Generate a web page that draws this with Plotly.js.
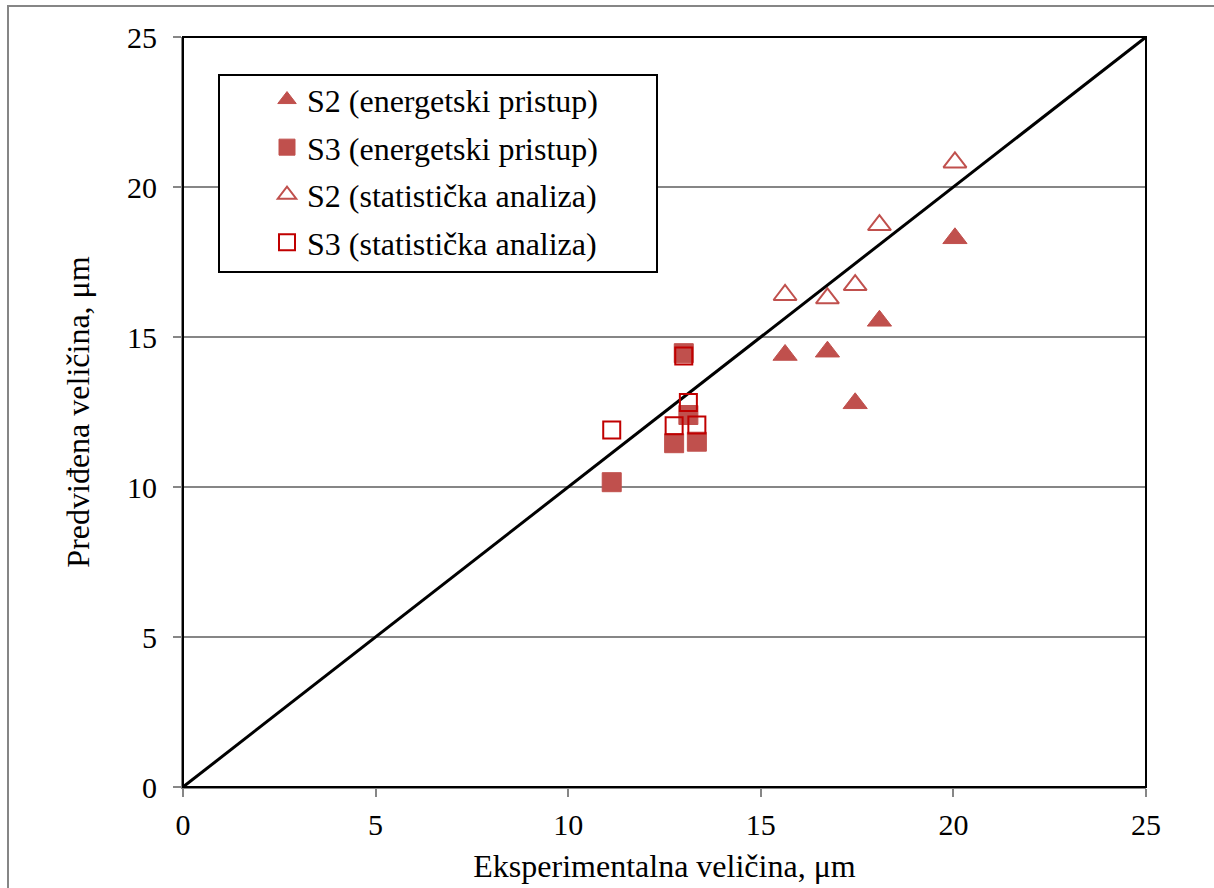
<!DOCTYPE html>
<html>
<head>
<meta charset="utf-8">
<script src="https://cdn.plot.ly/plotly-3.0.1.min.js"></script>
<style>html,body{margin:0;padding:0;background:#fff;}#chart{width:1214px;height:888px;}</style>
</head>
<body>
<div id="chart"></div>
<script>
// S2 (energetski pristup) - filled triangles
const s2EnergX = [15.63, 16.73, 17.45, 18.08, 20.04];
const s2EnergY = [14.40, 14.51, 12.79, 15.54, 18.29];
// S3 (energetski pristup) - filled squares
const s3EnergX = [11.13, 12.75, 13.00, 13.12, 13.34];
const s3EnergY = [10.16, 11.46, 14.46, 12.40, 11.51];
// S2 (statistička analiza) - open triangles
const s2StatX = [15.63, 16.73, 17.45, 18.08, 20.04];
const s2StatY = [16.40, 16.29, 16.73, 18.73, 20.82];
// S3 (statistička analiza) - open squares
const s3StatX = [11.13, 12.75, 13.00, 13.12, 13.34];
const s3StatY = [11.90, 12.04, 14.37, 12.82, 12.07];
// reference line y = x
const lineX = [0, 25];
const lineY = [0, 25];
const tickVals = [0, 5, 10, 15, 20, 25];

const names = ['S2 (energetski pristup)', 'S3 (energetski pristup)', 'S2 (statistička analiza)', 'S3 (statistička analiza)'];

const traces = [
  {x: lineX, y: lineY, mode: 'lines', line: {color: '#000000', width: 3}, showlegend: false, hoverinfo: 'skip'},
  {x: s2EnergX, y: s2EnergY, mode: 'markers', name: names[0], legendgroup: 'a',
   marker: {symbol: 'triangle-up', size: 21, color: '#C0504D', line: {color: '#C0504D', width: 1}}},
  {x: s3EnergX, y: s3EnergY, mode: 'markers', name: names[1], legendgroup: 'b',
   marker: {symbol: 'square', size: 19, color: '#C0504D', line: {color: '#C0504D', width: 1}}},
  {x: s2StatX, y: s2StatY, mode: 'markers', name: names[2], legendgroup: 'c',
   marker: {symbol: 'triangle-up-open', size: 20, color: '#C0504D', line: {color: '#C0504D', width: 2}}},
  {x: s3StatX, y: s3StatY, mode: 'markers', name: names[3], legendgroup: 'd',
   marker: {symbol: 'square-open', size: 17, color: '#C00000', line: {color: '#C00000', width: 2}}}
];

const fontFam = '"Liberation Serif", "Times New Roman", serif';

const layout = {
  width: 1214, height: 888,
  margin: {l: 183, r: 68, t: 37, b: 101},
  paper_bgcolor: '#ffffff', plot_bgcolor: '#ffffff',
  font: {family: fontFam, color: '#000000', size: 30},
  xaxis: {
    range: [0, 25], tickvals: tickVals, ticktext: tickVals.map(String),
    showgrid: false, zeroline: false, showline: true, linecolor: '#868686', linewidth: 2,
    ticks: 'outside', ticklen: 8, tickcolor: '#868686', tickwidth: 2,
    tickfont: {family: fontFam, size: 30}, ticklabelstandoff: 2,
    title: {text: 'Eksperimentalna veličina, μm', font: {family: fontFam, size: 32}, standoff: 15}
  },
  yaxis: {
    range: [0, 25], tickvals: tickVals, ticktext: tickVals.map(String),
    showgrid: true, gridcolor: '#868686', gridwidth: 2, zeroline: false,
    showline: true, linecolor: '#868686', linewidth: 2,
    ticks: 'outside', ticklen: 8, tickcolor: '#868686', tickwidth: 2,
    tickfont: {family: fontFam, size: 30}, ticklabelstandoff: 10,
    title: {text: 'Predviđena veličina, μm', font: {family: fontFam, size: 32}, standoff: 28}
  },
  legend: {
    x: (267 - 183) / 963, y: 0.953, xanchor: 'left', yanchor: 'top',
    bgcolor: 'rgba(0,0,0,0)', borderwidth: 0,
    font: {family: fontFam, size: 32},
    traceorder: 'grouped', tracegroupgap: 3, itemwidth: 30
  },
  shapes: [
    {type: 'rect', xref: 'paper', yref: 'paper', x0: 0, x1: 1, y0: 0, y1: 1,
     line: {color: '#000000', width: 2}, layer: 'above'},
    {type: 'rect', xref: 'paper', yref: 'paper', x0: (8 - 183) / 963, x1: 1.5, y0: -0.5, y1: (787 - 6) / 750,
     line: {color: '#868686', width: 2}, layer: 'below'},
    {type: 'rect', xref: 'paper', yref: 'paper',
     x0: (219 - 183) / 963, x1: (657 - 183) / 963, y0: (787 - 272) / 750, y1: (787 - 75) / 750,
     fillcolor: '#ffffff', line: {color: '#000000', width: 2}, layer: 'above'}
  ],
  showlegend: true
};

Plotly.newPlot('chart', traces, layout, {displayModeBar: false, staticPlot: true});
</script>
</body>
</html>
